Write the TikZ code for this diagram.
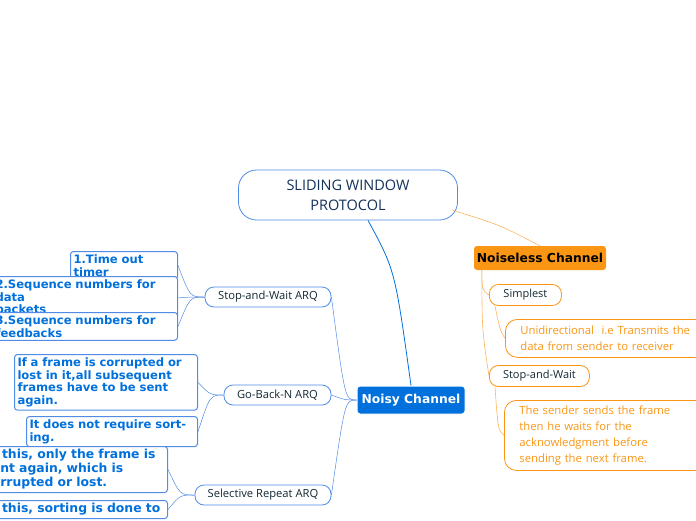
\documentclass[tikz,border=0pt]{standalone}
\usepackage{fontspec}
\setmainfont{Open Sans}
\newfontfamily\dvs{DejaVu Sans}
\definecolor{bl}{RGB}{0,112,220}
\definecolor{lbl}{RGB}{80,140,230}
\definecolor{ora}{RGB}{250,150,20}
\definecolor{dk}{RGB}{20,40,50}
\definecolor{rootc}{RGB}{20,50,90}
\begin{document}
\begin{tikzpicture}[x=1pt,y=-1pt,
 leaf/.style={draw=lbl,line width=1pt,rounded corners=3pt,fill=white,font=\dvs\bfseries\fontsize{11.6}{12.8}\selectfont,text=bl,align=left,inner sep=3pt,anchor=north east},
 sub/.style={draw=lbl,line width=0.8pt,rounded corners=9pt,fill=white,font=\fontsize{11.2}{13}\selectfont,text=dk,minimum height=20pt,inner xsep=4pt},
 osub/.style={draw=ora,line width=0.8pt,rounded corners=9pt,fill=white,font=\fontsize{11}{13}\selectfont,text=dk,minimum height=21pt,inner xsep=4pt,anchor=west},
 otext/.style={draw=ora,line width=0.8pt,rounded corners=12pt,fill=white,font=\fontsize{11.3}{15.8}\selectfont,text=ora,align=left,inner xsep=15pt,inner ysep=3pt,anchor=north west},
 bc/.style={draw=lbl,line width=0.5pt},
 oc/.style={draw=ora!70,line width=0.6pt}]
\useasboundingbox (0,0) rectangle (696,520);
% root
\node[draw=lbl,line width=0.8pt,rounded corners=18pt,fill=white,minimum width=219pt,minimum height=50pt,align=center,text=rootc,font=\fontsize{14.5}{20}\selectfont] (root) at (348,195) {SLIDING WINDOW\\PROTOCOL};
% noiseless
\node[fill=ora,rounded corners=3pt,minimum width=132pt,minimum height=24pt,inner xsep=2pt,font=\dvs\bfseries\fontsize{12.3}{13}\selectfont,text=black] (nl) at (540,258) {Noiseless Channel};
\node[osub,minimum width=72pt] (simp) at (489,295) {Simplest};
\node[otext,text width=195pt,minimum height=38pt] (uni) at (505,319) {Unidirectional\ \ i.e Transmits the\\data from sender to receiver};
\node[osub,minimum width=100pt] (sw) at (489,376) {Stop-and-Wait};
\node[otext,text width=185pt,minimum height=70pt] (snd) at (504,400) {The sender sends the frame\\then he waits for the\\acknowledgment before\\sending the next frame.};
% noisy
\node[fill=bl,draw=white,line width=1pt,rounded corners=3pt,minimum width=108pt,minimum height=28pt,inner xsep=2pt,font=\dvs\bfseries\fontsize{12.3}{13}\selectfont,text=white] (ny) at (411,400) {Noisy Channel};
\node[sub,minimum width=126pt] (swa) at (268,297) {Stop-and-Wait ARQ};
\node[sub,minimum width=107pt] (gbn) at (277.5,395) {Go-Back-N ARQ};
\node[sub,minimum width=136pt] (sr) at (263,495) {Selective Repeat ARQ};
% leaves
\node[leaf,text width=101pt] (l1) at (178,251) {1.Time out timer};
\node[leaf,text width=179pt] (l2) at (178,276) {2.Sequence numbers for data\\packets};
\node[leaf,text width=179pt] (l3) at (178,312) {3.Sequence numbers for\\feedbacks};
\node[leaf,text width=177pt] (l4) at (198,354) {If a frame is corrupted or\\lost in it,all subsequent\\frames have to be sent\\again.};
\node[leaf,text width=165pt] (l5) at (198,416) {It does not require sorting.};
\node[leaf,text width=180pt,font=\dvs\bfseries\fontsize{12.4}{14}\selectfont] (l6) at (168,446) {In this, only the frame is\\sent again, which is\\corrupted or lost.};
\node[leaf,text width=180pt,font=\dvs\bfseries\fontsize{12.4}{14}\selectfont] (l7) at (168,500) {In this, sorting is done to\\};
% connectors
\draw[oc] (root.east)++(-6,15) .. controls (500,225) .. (nl.north);
\draw[draw=bl,line width=0.8pt] (root.south)++(20,0) .. controls (395,270) .. (ny.north);
\draw[oc] (nl.south west)++(8,0) .. controls (482,290) .. (simp.west);
\draw[oc] (nl.south west)++(8,0) .. controls (482,330) .. (sw.west);
\draw[oc] (simp.south west)++(6,0) .. controls (500,330) .. (uni.west);
\draw[oc] (sw.south west)++(6,0) .. controls (498,430) .. (snd.west);
\foreach \c in {swa,gbn,sr} \draw[bc] (ny.west) .. controls (345,400) .. (\c.east);
\foreach \c in {l1,l2,l3} \draw[bc] (swa.west) .. controls (190,297) .. (\c.east);
\foreach \c in {l4,l5} \draw[bc] (gbn.west) .. controls (210,395) .. (\c.east);
\foreach \c in {l6,l7} \draw[bc] (sr.west) .. controls (180,495) .. (\c.east);
\end{tikzpicture}
\end{document}
